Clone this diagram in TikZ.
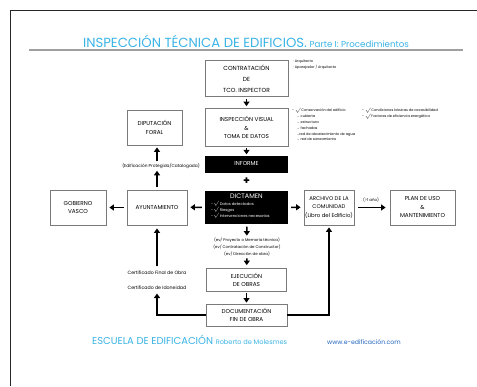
\documentclass[tikz,border=0pt]{standalone}
\usepackage{fontspec}
\setmainfont{Poppins}
\usetikzlibrary{arrows.meta}
\definecolor{cy}{HTML}{3BB4E6}
\definecolor{bx}{HTML}{7A7A7A}
\definecolor{rule}{HTML}{A0A0A0}
\begin{document}
\begin{tikzpicture}[x=1pt,y=-1pt,
  box/.style={draw=bx, line width=0.8pt, fill=white, align=center, inner sep=0pt,
    font=\fontsize{5.7}{8.5}\selectfont},
  blk/.style={fill=black, text=white, align=center, inner sep=0pt,
    font=\fontsize{5.7}{8.5}\selectfont},
  arr/.style={-{Triangle[length=4.5pt,width=6pt]}, line width=1.5pt},
  note/.style={font=\fontsize{3.5}{5.8}\selectfont, align=left, inner sep=0pt},
  cnote/.style={font=\fontsize{4}{7}\selectfont, align=center, inner sep=0pt}]
\useasboundingbox (0,0) rectangle (477,386);
\fill[white] (0,0) rectangle (477,386);
\draw[line width=0.9pt, black!85] (10,386) -- (10,10) -- (477,10);
\draw[line width=1.2pt, rule] (29,50) -- (463,50);
\node[anchor=base, text=cy, inner sep=0pt] (title) at (246,47)
  {{\fontsize{13.2}{14}\selectfont INSPECCIÓN TÉCNICA DE EDIFICIOS.} {\fontsize{8.7}{9}\selectfont Parte I: Procedimientos}};

% boxes
\node[box, minimum width=83pt, minimum height=36pt, font=\fontsize{5.9}{11}\selectfont] (contr) at (246.5,78.5) {CONTRATACIÓN\\DE\\TCO. INSPECTOR};
\node[box, minimum width=83pt, minimum height=38pt] (insp) at (246.5,127.5) {INSPECCIÓN VISUAL\\\&\\TOMA DE DATOS};
\node[box, minimum width=55pt, minimum height=35pt] (dipu) at (154.5,127.5) {DIPUTACIÓN\\FORAL};
\node[blk, minimum width=83pt, minimum height=17pt] (inf) at (246.5,164) {INFORME};
\node[font=\bfseries\fontsize{11}{11}\selectfont, inner sep=0pt] (plus) at (246.5,181.5) {+};
\node[blk, minimum width=83pt, minimum height=33pt] (dict) at (246.5,207) {};
\node[text=white, inner sep=0pt, font=\fontsize{6.5}{7}\selectfont] (dictt) at (246.5,196.5) {DICTAMEN};
\node[text=white, note, anchor=north west, font=\fontsize{3.8}{6}\selectfont] (dicti) at (211,201.5)
  {-$\surd$ Datos detectados\\-$\surd$ Riesgos\\-$\surd$ Intervenciones necesarias};
\node[box, minimum width=60pt, minimum height=35pt] (ayto) at (157,207.5) {AYUNTAMIENTO};
\node[box, minimum width=56pt, minimum height=35pt] (gob) at (78,207.5) {GOBIERNO\\VASCO};
\node[box, minimum width=50pt, minimum height=35pt, font=\fontsize{5.4}{8.5}\selectfont] (arch) at (329,207.5) {ARCHIVO DE LA\\COMUNIDAD\\(Libro del Edificio)};
\node[box, minimum width=65pt, minimum height=35pt] (plan) at (422.5,207.5) {PLAN DE USO\\\&\\MANTENIMIENTO};
\node[box, minimum width=80pt, minimum height=23pt] (ejec) at (246.5,280) {EJECUCIÓN\\DE OBRAS};
\node[box, minimum width=81pt, minimum height=22pt] (doc) at (246.5,315) {DOCUMENTACIÓN\\FIN DE OBRA};

% notes
\node[note, anchor=north west] (ncontr) at (293,60) {· Arquitecto\\· Aparejador / Arquitecto};
\node[note, anchor=north west] (ninsp1) at (292,108)
  {- $\surd$ Conservación del edificio\\\hspace{5pt}... cubierta\\\hspace{5pt}... estructura\\\hspace{5pt}... fachadas\\\hspace{5pt}...red de abastecimiento de agua\\\hspace{5pt}... red de saneamiento};
\node[note, anchor=north west] (ninsp2) at (362,108)
  {- $\surd$ Condiciones básicas de accesibilidad\\- $\surd$ Factores de eficiencia energética};
\node[cnote, font=\fontsize{4.3}{7}\selectfont] (prot) at (161,166) {(Edificación Protegida/Catalogada)};
\node[cnote, font=\fontsize{3.9}{7}\selectfont] (ndict) at (247,247)
  {(ev/ Proyecto o Memoria técnica)\\(ev/ Contratación de Constructor)\\(ev/ Dirección de obra)};
\node[cnote, font=\fontsize{4.7}{15}\selectfont] (cert) at (157,280)
  {Certificado Final de Obra\\Certificado de Idoneidad};
\node[cnote] (anio) at (371,199.5) {(>1 año)};

% arrows
\draw[arr, shorten <=2pt, shorten >=2pt] (contr) -- (insp);
\draw[arr, shorten <=1pt, shorten >=1pt] (insp) -- (inf);
\draw[arr, shorten <=3pt, shorten >=3pt] (dict) -- (ayto);
\draw[arr, shorten <=3pt, shorten >=3pt] (ayto) -- (gob);
\draw[arr, shorten <=3pt, shorten >=2pt] (ayto.north) -- (ayto.north |- prot.south);
\draw[arr, shorten <=2pt, shorten >=2pt] (ayto.north |- prot.north) -- (ayto.north |- dipu.south);
\draw[arr, shorten <=3pt, shorten >=3pt] (dict) -- (arch);
\draw[arr, shorten <=4pt, shorten >=4pt] (arch) -- (plan);
\draw[arr, shorten <=3pt, shorten >=2pt] (dict) -- (ndict);
\draw[arr, shorten <=2pt, shorten >=3pt] (ndict) -- (ejec);
\draw[arr, shorten <=1pt, shorten >=1pt] (ejec) -- (doc);
\draw[arr, shorten >=4pt] (doc.west) -| (cert.south);
\draw[arr, shorten <=4pt, shorten >=3pt] (cert.north) -- (ayto.south);
\draw[arr, shorten >=2pt] (doc.east) -| (arch.south);

% footer
\node[anchor=base west, text=cy, inner sep=0pt] (esc) at (92,344)
  {{\fontsize{10}{10}\selectfont ESCUELA DE EDIFICACIÓN} {\fontsize{6.6}{7}\selectfont Roberto de Molesmes}};
\node[anchor=base west, text=cy!70!blue!80!black, inner sep=0pt, font=\fontsize{6.2}{7}\selectfont] (www) at (327,344) {www.e-edificación.com};
\end{tikzpicture}
\end{document}
